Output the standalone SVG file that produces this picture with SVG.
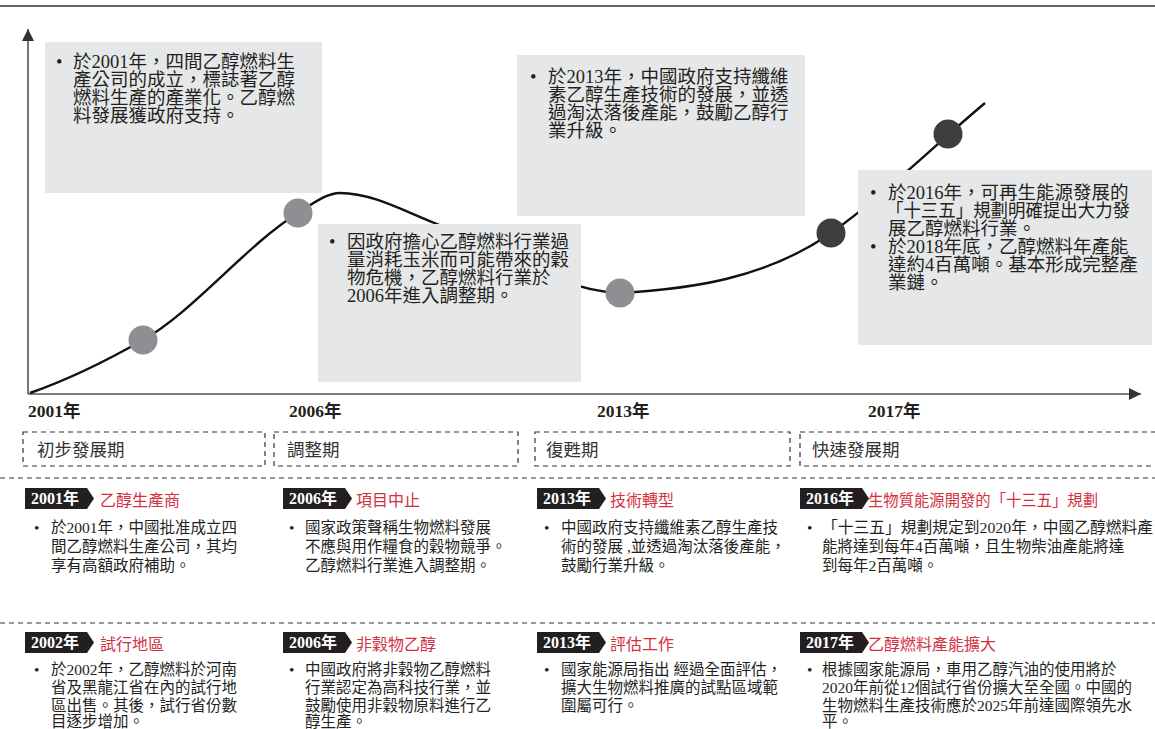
<svg xmlns="http://www.w3.org/2000/svg" width="1155" height="729" viewBox="0 0 1155 729">
<defs>
<style>
.t{font-family:"Liberation Serif","Noto Sans CJK TC",serif;fill:#231f20}
.bx{font-size:18.5px}
.yr{font-size:17.5px;font-weight:bold}
.ph{font-size:17.5px;fill:#333}
.tg{font-size:16px;font-weight:bold;fill:#fff}
.tl{font-size:16px;fill:#d2313f}
.bd{font-size:15.5px}
.note{fill:#e6e7e8}
.dot1{fill:#8e8f92}
.dot2{fill:#3d3d3e}
.dash{fill:none;stroke:#333;stroke-width:1.2;stroke-dasharray:5 4}
.tagbg{fill:#231f20}
</style>
<marker id="arr" viewBox="0 0 12 12" refX="12" refY="6" markerWidth="12" markerHeight="12" markerUnits="userSpaceOnUse" orient="auto">
<path d="M0,0 L12,6 L0,12 Z" fill="#333"/>
</marker>
</defs>
<rect width="1155" height="729" fill="#fff"/>
<line x1="0" y1="6" x2="1155" y2="6" stroke="#333" stroke-width="1.6"/>

<g id="connectors">
<line x1="28" y1="394" x2="28" y2="29" stroke="#555" stroke-width="1.6" marker-end="url(#arr)"/>
<line x1="28" y1="394" x2="1141" y2="394" stroke="#555" stroke-width="1.6" marker-end="url(#arr)"/>
<path d="M30,393 C67.7,379.8 105.3,361.5 143,340 C194.7,310.5 246.3,245 298,213 C312,204.3 326,193 340,193 C372.3,193 404.7,211.4 437,224 C498,247.8 559,291.2 620,293 C690,289 765,279 831,233 C882.3,196.6 933.7,146.1 985,103" fill="none" stroke="#111" stroke-width="2.4"/>
</g>

<g id="note-2001">
<rect class="note" x="45" y="42" width="277" height="151"/>
<text class="t bx" x="56" y="68">•</text>
<text class="t bx"><tspan x="73" y="68">於2001年，四間乙醇燃料生</tspan><tspan x="73" y="86">產公司的成立，標誌著乙醇</tspan><tspan x="73" y="104">燃料生產的產業化。乙醇燃</tspan><tspan x="73" y="122">料發展獲政府支持。</tspan></text>
</g>

<g id="note-2006">
<rect class="note" x="318" y="224" width="263" height="158"/>
<text class="t bx" x="329" y="248">•</text>
<text class="t bx"><tspan x="347" y="248">因政府擔心乙醇燃料行業過</tspan><tspan x="347" y="266">量消耗玉米而可能帶來的穀</tspan><tspan x="347" y="284">物危機，乙醇燃料行業於</tspan><tspan x="347" y="302">2006年進入調整期。</tspan></text>
</g>

<g id="note-2013">
<rect class="note" x="517" y="55" width="288" height="161"/>
<text class="t bx" x="530" y="83">•</text>
<text class="t bx"><tspan x="548" y="83">於2013年，中國政府支持纖維</tspan><tspan x="548" y="101">素乙醇生產技術的發展，並透</tspan><tspan x="548" y="119">過淘汰落後產能，鼓勵乙醇行</tspan><tspan x="548" y="137">業升級。</tspan></text>
</g>

<g id="note-2016">
<rect class="note" x="858" y="170" width="294" height="175"/>
<text class="t bx" x="870" y="199">•</text>
<text class="t bx" x="870" y="253">•</text>
<text class="t bx"><tspan x="888" y="199">於2016年，可再生能源發展的</tspan><tspan x="886" y="217" textLength="244" lengthAdjust="spacingAndGlyphs">「十三五」規劃明確提出大力發</tspan><tspan x="888" y="235">展乙醇燃料行業。</tspan><tspan x="888" y="253">於2018年底，乙醇燃料年產能</tspan><tspan x="888" y="271">達約4百萬噸。基本形成完整產</tspan><tspan x="888" y="289">業鏈。</tspan></text>
</g>

<g id="points">
<circle class="dot1" cx="143" cy="340" r="14.5"/>
<circle class="dot1" cx="298" cy="213" r="14.5"/>
<circle class="dot1" cx="620" cy="293" r="14.5"/>
<circle class="dot2" cx="831" cy="233" r="14.5"/>
<circle class="dot2" cx="948" cy="134" r="14.5"/>
</g>

<g id="years">
<text class="t yr" x="28" y="417">2001年</text>
<text class="t yr" x="289" y="417">2006年</text>
<text class="t yr" x="597" y="417">2013年</text>
<text class="t yr" x="868" y="417">2017年</text>
</g>

<g id="phase-1"><rect class="dash" x="23" y="432" width="242" height="34"/><text class="t ph" x="37" y="455.5">初步發展期</text></g>
<g id="phase-2"><rect class="dash" x="274" y="432" width="244" height="34"/><text class="t ph" x="287" y="455.5">調整期</text></g>
<g id="phase-3"><rect class="dash" x="535" y="432" width="255" height="34"/><text class="t ph" x="546" y="455.5">復甦期</text></g>
<g id="phase-4"><rect class="dash" x="800" y="432" width="370" height="34"/><text class="t ph" x="812" y="455.5">快速發展期</text></g>

<line x1="0" y1="478" x2="1155" y2="478" class="dash" stroke-dasharray="6 4"/>
<line x1="0" y1="623" x2="1155" y2="623" class="dash" stroke-dasharray="6 4"/>

<g id="event-2001">
<path class="tagbg" d="M25,488 H87 L94,498.5 L87,509 H25 Z"/>
<text class="t tg" x="31" y="504">2001年</text>
<text class="t tl" x="100" y="506">乙醇生產商</text>
<text class="t bd" x="34" y="533">•</text>
<text class="t bd"><tspan x="51" y="533">於2001年，中國批准成立四</tspan><tspan x="51" y="552">間乙醇燃料生產公司，其均</tspan><tspan x="51" y="571">享有高額政府補助。</tspan></text>
</g>

<g id="event-2006a">
<path class="tagbg" d="M283,488 H345 L352,498.5 L345,509 H283 Z"/>
<text class="t tg" x="289" y="504">2006年</text>
<text class="t tl" x="356" y="506">項目中止</text>
<text class="t bd" x="289" y="533">•</text>
<text class="t bd"><tspan x="305" y="533">國家政策聲稱生物燃料發展</tspan><tspan x="305" y="552">不應與用作糧食的穀物競爭。</tspan><tspan x="305" y="571">乙醇燃料行業進入調整期。</tspan></text>
</g>

<g id="event-2013a">
<path class="tagbg" d="M537,488 H599 L606,498.5 L599,509 H537 Z"/>
<text class="t tg" x="543" y="504">2013年</text>
<text class="t tl" x="610" y="506">技術轉型</text>
<text class="t bd" x="544" y="533">•</text>
<text class="t bd"><tspan x="561" y="533">中國政府支持纖維素乙醇生產技</tspan><tspan x="561" y="552">術的發展 ,並透過淘汰落後產能，</tspan><tspan x="561" y="571">鼓勵行業升級。</tspan></text>
</g>

<g id="event-2016">
<path class="tagbg" d="M800,488 H862 L869,498.5 L862,509 H800 Z"/>
<text class="t tg" x="806" y="504">2016年</text>
<text class="t tl" x="868" y="506" textLength="230" lengthAdjust="spacingAndGlyphs">生物質能源開發的「十三五」規劃</text>
<text class="t bd" x="807" y="533">•</text>
<text class="t bd"><tspan x="822" y="533" textLength="331" lengthAdjust="spacingAndGlyphs">「十三五」規劃規定到2020年，中國乙醇燃料產</tspan><tspan x="822" y="552">能將達到每年4百萬噸，且生物柴油產能將達</tspan><tspan x="822" y="571">到每年2百萬噸。</tspan></text>
</g>

<g id="event-2002">
<path class="tagbg" d="M25,632 H87 L94,642.5 L87,653 H25 Z"/>
<text class="t tg" x="31" y="648">2002年</text>
<text class="t tl" x="100" y="650">試行地區</text>
<text class="t bd" x="34" y="675">•</text>
<text class="t bd"><tspan x="51" y="675">於2002年，乙醇燃料於河南</tspan><tspan x="51" y="693">省及黑龍江省在內的試行地</tspan><tspan x="51" y="711">區出售。其後，試行省份數</tspan><tspan x="51" y="727">目逐步增加。</tspan></text>
</g>

<g id="event-2006b">
<path class="tagbg" d="M283,632 H345 L352,642.5 L345,653 H283 Z"/>
<text class="t tg" x="289" y="648">2006年</text>
<text class="t tl" x="356" y="650">非穀物乙醇</text>
<text class="t bd" x="289" y="675">•</text>
<text class="t bd"><tspan x="305" y="675">中國政府將非穀物乙醇燃料</tspan><tspan x="305" y="693">行業認定為高科技行業，並</tspan><tspan x="305" y="711">鼓勵使用非穀物原料進行乙</tspan><tspan x="305" y="727">醇生產。</tspan></text>
</g>

<g id="event-2013b">
<path class="tagbg" d="M537,632 H599 L606,642.5 L599,653 H537 Z"/>
<text class="t tg" x="543" y="648">2013年</text>
<text class="t tl" x="610" y="650">評估工作</text>
<text class="t bd" x="544" y="675">•</text>
<text class="t bd"><tspan x="561" y="675">國家能源局指出 經過全面評估，</tspan><tspan x="561" y="693">擴大生物燃料推廣的試點區域範</tspan><tspan x="561" y="711">圍屬可行。</tspan></text>
</g>

<g id="event-2017">
<path class="tagbg" d="M800,632 H862 L869,642.5 L862,653 H800 Z"/>
<text class="t tg" x="806" y="648">2017年</text>
<text class="t tl" x="868" y="650">乙醇燃料產能擴大</text>
<text class="t bd" x="807" y="675">•</text>
<text class="t bd"><tspan x="822" y="675">根據國家能源局，車用乙醇汽油的使用將於</tspan><tspan x="822" y="693">2020年前從12個試行省份擴大至全國。中國的</tspan><tspan x="822" y="711">生物燃料生產技術應於2025年前達國際領先水</tspan><tspan x="822" y="727">平。</tspan></text>
</g>
</svg>
